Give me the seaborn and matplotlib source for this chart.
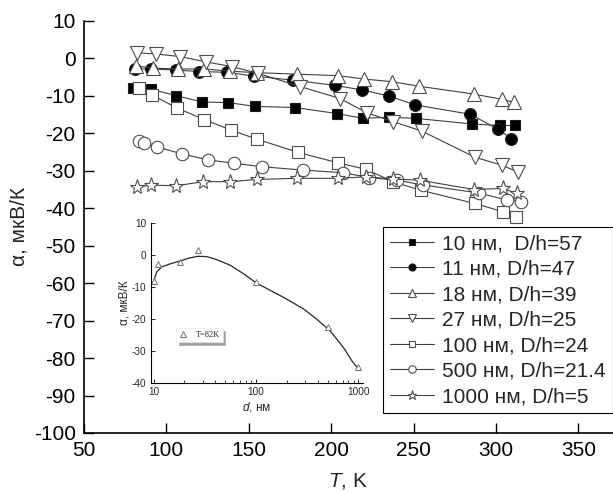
import numpy as np
import pandas as pd
import matplotlib
matplotlib.use('Agg')
import matplotlib.pyplot as plt
import seaborn as sns

# --- datos: T (K) y alfa (мкВ/К) ---
T_10 = [80, 90.5, 105.7, 121.4, 137.6, 153.8, 178, 203.4, 219.2, 234.8, 251.6, 285.4, 302.6, 311.3]
a_10 = [-8.0, -8.2, -9.9, -11.6, -11.8, -12.8, -13.1, -14.7, -16.0, -15.7, -16.0, -17.5, -17.9, -17.9]

T_11 = [81, 90.5, 105.7, 120, 136.7, 153, 177, 202.4, 218.6, 234.8, 251, 284.4, 301.2, 309.3]
a_11 = [-2.8, -2.8, -3.1, -3.5, -3.7, -4.7, -5.8, -7.2, -8.4, -10.0, -12.4, -14.9, -18.9, -21.4]

T_18 = [81.6, 92, 107.3, 122.9, 138.6, 155.2, 179.5, 204.4, 220.2, 236.8, 253, 286.4, 303.6, 310.7]
a_18 = [-2.0, -2.6, -2.8, -2.8, -3.4, -3.8, -4.2, -4.6, -5.5, -6.2, -7.4, -9.5, -10.9, -11.7]

T_27 = [82.4, 93.7, 108.3, 123.9, 140, 155.8, 181.1, 205.4, 221.6, 237.8, 255, 287.4, 303.6, 313.1]
a_27 = [1.5, 1.2, 0.5, -0.9, -2.2, -4.0, -7.5, -10.7, -14.5, -16.9, -19.4, -26.4, -28.5, -30.3]

T_100 = [83.6, 91.5, 106.7, 123, 139, 155.2, 180.1, 204.4, 221.2, 237.4, 254.4, 287, 304, 312.3]
a_100 = [-8.0, -9.8, -13.3, -16.3, -19.1, -21.6, -25.1, -27.9, -29.6, -32.9, -35.2, -38.7, -40.9, -42.3]

T_500 = [83.2, 86.6, 94.1, 109.7, 125.5, 141.3, 157.9, 182.6, 207, 223.2, 239.8, 256, 289.4, 306.6, 315.1]
a_500 = [-22.0, -22.5, -23.6, -25.5, -27.1, -28.0, -28.9, -29.8, -30.5, -31.8, -32.5, -33.8, -35.9, -37.8, -38.3]

T_1000 = [82.4, 90.5, 105.9, 122.1, 138.6, 154.8, 179.5, 204.4, 221.2, 237.4, 253.6, 286.8, 304, 312.7]
a_1000 = [-34.4, -33.8, -34.0, -32.9, -32.9, -32.3, -32.0, -32.0, -31.6, -32.2, -32.5, -35.0, -34.7, -36.0]

etiquetas = ['10 нм,  D/h=57', '11 нм, D/h=47', '18 нм, D/h=39', '27 нм, D/h=25',
             '100 нм, D/h=24', '500 нм, D/h=21.4', '1000 нм, D/h=5']

# --- recuadro: alfa a T=82K contra d ---
d_ins = [10, 11, 18, 27, 100, 500, 1000]
a_ins = [-8.1, -2.9, -2.1, 1.5, -8.3, -22.6, -35.1]
# curva de ajuste (leída punto a punto)
d_fit = [10, 10.7, 12, 14.4, 18, 22, 27, 33, 41, 56, 75, 100, 185, 290, 390, 530, 715, 865, 1000]
a_fit = [-8.2, -5.3, -3.7, -2.8, -1.9, -1.0, -0.4, -0.5, -1.4, -3.2, -5.8, -8.7, -13.2, -16.8,
         -20.0, -23.7, -28.9, -33.1, -35.6]

sns.set_style('ticks')
plt.rcParams['font.family'] = ['Liberation Sans', 'DejaVu Sans']
plt.rcParams['mathtext.fontset'] = 'custom'
plt.rcParams['mathtext.rm'] = 'Liberation Sans'
plt.rcParams['mathtext.it'] = 'Liberation Sans:italic'
plt.rcParams['axes.unicode_minus'] = False

fig = plt.figure(figsize=(6.13, 4.92), dpi=100)
ax = fig.add_axes([84 / 613, 59 / 492, 1 - 84 / 613, (433 - 21) / 492])

series = [
    (T_10, a_10, 's', 'black', 7.5),
    (T_11, a_11, 'o', 'black', 8.5),
    (T_18, a_18, '^', 'white', 9.5),
    (T_27, a_27, 'v', 'white', 9.5),
    (T_100, a_100, 's', 'white', 8),
    (T_500, a_500, 'o', 'white', 9),
    (T_1000, a_1000, '*', 'white', 11),
]

for (T, a, mk, fc, ms), lab in zip(series, etiquetas):
    df = pd.DataFrame({'T': T, 'a': a})
    sns.lineplot(data=df, x='T', y='a', ax=ax, sort=False, estimator=None,
                 color='0.25', linewidth=0.8, marker=mk, markersize=ms,
                 markerfacecolor=fc, markeredgecolor='0.1' if fc == 'black' else '0.3',
                 markeredgewidth=0.8, label=lab)

ax.set_xlim(50, 371)
ax.set_ylim(-100, 10)
ax.set_xticks(np.arange(50, 351, 50))
ax.set_yticks(np.arange(-100, 11, 10))
ax.tick_params(direction='in', length=7, width=1, labelsize=15, pad=6, colors='black')
for s in ['top', 'right']:
    ax.spines[s].set_visible(False)
for s in ['left', 'bottom']:
    ax.spines[s].set_linewidth(1.2)
    ax.spines[s].set_color('black')
ax.set_xlabel('$T$, K', fontsize=15, labelpad=8)
ax.set_ylabel('α, мкВ/К', fontsize=15, labelpad=4)

leg = ax.legend(loc='upper left', bbox_to_anchor=(383 / 613, 1 - 227 / 492),
                bbox_transform=fig.transFigure, borderaxespad=0, fontsize=15,
                handlelength=2.1, handletextpad=0.4, labelspacing=0.31,
                markerscale=0.6, fancybox=False, framealpha=1, borderpad=0.35)
leg.get_frame().set_edgecolor('black')
leg.get_frame().set_linewidth(0.8)

# --- recuadro ---
axi = fig.add_axes([150.7 / 613, (492 - 383) / 492, (363 - 150.7) / 613, 160 / 492])
axi.set_xscale('log')
sns.lineplot(x=d_fit, y=a_fit, ax=axi, sort=False, estimator=None, color='0.15', linewidth=0.9)
axi.plot(d_ins, a_ins, linestyle='none', marker='^', markersize=5, markerfacecolor='white',
         markeredgecolor='0.45', markeredgewidth=0.7, label='T=82K')
axi.set_xlim(9.35, 1110)
axi.set_ylim(-40, 10)
axi.set_yticks(np.arange(-40, 11, 10))
axi.set_xticks([10, 100, 1000])
axi.set_xticklabels(['10', '100', '1000'])
axi.tick_params(which='major', direction='in', length=3, width=0.7, labelsize=7.2, pad=3)
axi.tick_params(which='minor', direction='in', length=2, width=0.6)
for s in ['top', 'right']:
    axi.spines[s].set_visible(False)
for s in ['left', 'bottom']:
    axi.spines[s].set_linewidth(0.8)
    axi.spines[s].set_color('black')
axi.set_xlabel('$d$, нм', fontsize=8.5, labelpad=2)
axi.set_ylabel('α, мкВ/К', fontsize=8.5, labelpad=1)
li = axi.legend(loc='center left', bbox_to_anchor=(0.1, 0.3), fontsize=6, frameon=True,
                fancybox=False, framealpha=1, handlelength=1.0, handletextpad=1.0,
                borderpad=0.35, shadow={'color': '0.55', 'alpha': 0.8})
li.get_frame().set_edgecolor('0.9')
li.get_frame().set_linewidth(0.4)
for t in li.get_texts():
    t.set_family('Liberation Serif')

fig.savefig('out.png', dpi=100)
plt.close(fig)
